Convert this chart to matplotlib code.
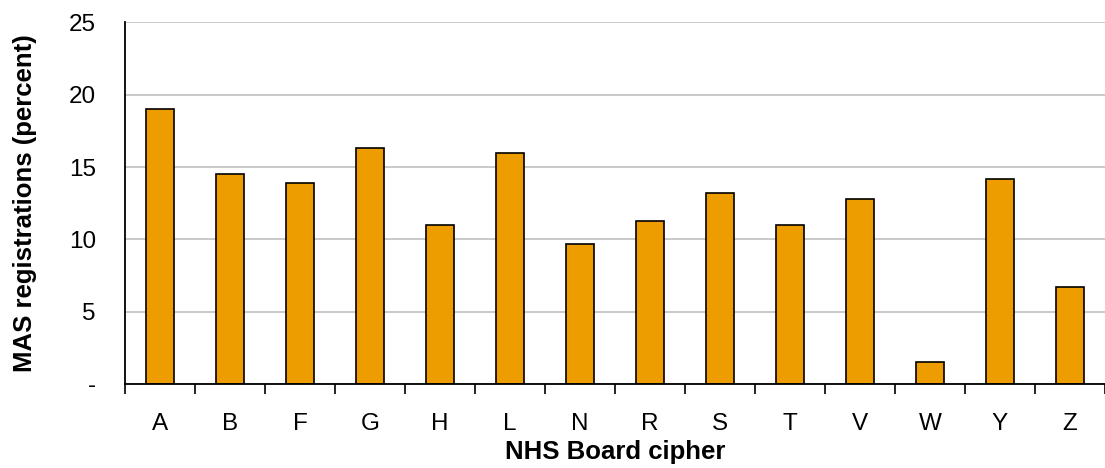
import matplotlib.pyplot as plt
import numpy as np
from matplotlib.ticker import FixedLocator, FuncFormatter

plt.rcParams['font.family'] = ['Liberation Sans', 'DejaVu Sans']

# MAS registrations by NHS Board
boards = ['A', 'B', 'F', 'G', 'H', 'L', 'N', 'R', 'S', 'T', 'V', 'W', 'Y', 'Z']
pct = [19.0, 14.5, 13.9, 16.3, 11.0, 16.0, 9.7, 11.3, 13.2, 11.0, 12.8, 1.5, 14.2, 6.7]

fig = plt.figure(figsize=(11.05, 4.68), dpi=100)
ax = fig.add_axes([0.1131, 0.1795, 0.8869, 0.7725])

x = np.arange(len(boards))
ax.bar(x, pct, width=0.41, color='#EE9D00', edgecolor='black', linewidth=1.2, zorder=3)

ax.set_xlim(-0.5, len(boards) - 0.5)
ax.set_ylim(0, 25)
ax.set_yticks([0, 5, 10, 15, 20, 25])
ax.yaxis.set_major_formatter(FuncFormatter(lambda v, p: '-' if v == 0 else '%d' % v))
ax.yaxis.grid(True, color='#C0C0C0', linewidth=1.2, zorder=0)

ax.set_xticks(x)
ax.set_xticklabels(boards)
ax.xaxis.set_minor_locator(FixedLocator(np.arange(-0.5, len(boards), 1.0)))
ax.tick_params(axis='x', which='major', length=0, pad=21, labelsize=17.5)
ax.tick_params(axis='x', which='minor', length=7, width=1.2, direction='out')
ax.tick_params(axis='y', length=0, pad=21, labelsize=17.5)

for s in ['top', 'right']:
    ax.spines[s].set_visible(False)
ax.spines['left'].set_linewidth(1.3)
ax.spines['bottom'].set_linewidth(1.3)
ax.spines['left'].set_zorder(4)
ax.spines['bottom'].set_zorder(4)

ax.set_xlabel('NHS Board cipher', fontsize=18.5, fontweight='bold', va='center')
ax.set_ylabel('MAS registrations (percent)', fontsize=18.5, fontweight='bold', va='center')
ax.xaxis.set_label_coords(0.5, -0.188)
ax.yaxis.set_label_coords(-0.102, 0.5)

fig.savefig('out.png', dpi=100)
